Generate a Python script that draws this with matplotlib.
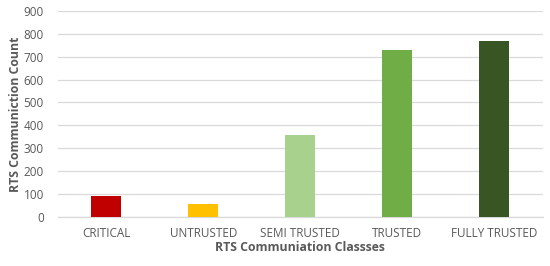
import matplotlib.pyplot as plt

# Datos del grafico
classes = ['CRITICAL', 'UNTRUSTED', 'SEMI TRUSTED', 'TRUSTED', 'FULLY TRUSTED']
counts = [90, 58, 357, 728, 768]
colors = ['#C00000', '#FFC000', '#A9D18E', '#70AD47', '#375623']
yticks = [0, 100, 200, 300, 400, 500, 600, 700, 800, 900]

plt.rcParams['font.family'] = ['Open Sans', 'DejaVu Sans']

fig = plt.figure(figsize=(5.5, 2.66), dpi=100)
ax = fig.add_axes([0.105, 0.185, 0.882, 0.774])

ax.bar(range(len(classes)), counts, width=0.31, color=colors, zorder=3)

ax.set_ylim(0, 900)
ax.set_xlim(-0.5, len(classes) - 0.5)
ax.set_yticks(yticks)
ax.set_xticks(range(len(classes)))
ax.set_xticklabels(classes)
ax.tick_params(length=0, colors='#595959', labelsize=8.5)
ax.tick_params(axis='x', pad=7)
ax.tick_params(axis='y', pad=10)

ax.grid(axis='y', color='#D9D9D9', linewidth=0.9, zorder=0)
for s in ['top', 'right', 'left']:
    ax.spines[s].set_visible(False)
ax.spines['bottom'].set_color('#D9D9D9')
ax.spines['bottom'].set_linewidth(0.9)

ax.set_xlabel('RTS Communiation Classses', fontsize=8.8, fontweight='bold', color='#595959', labelpad=1)
ax.set_ylabel('RTS Communiction Count', fontsize=8.8, fontweight='bold', color='#595959', labelpad=1)

fig.savefig('out.png', dpi=100)
